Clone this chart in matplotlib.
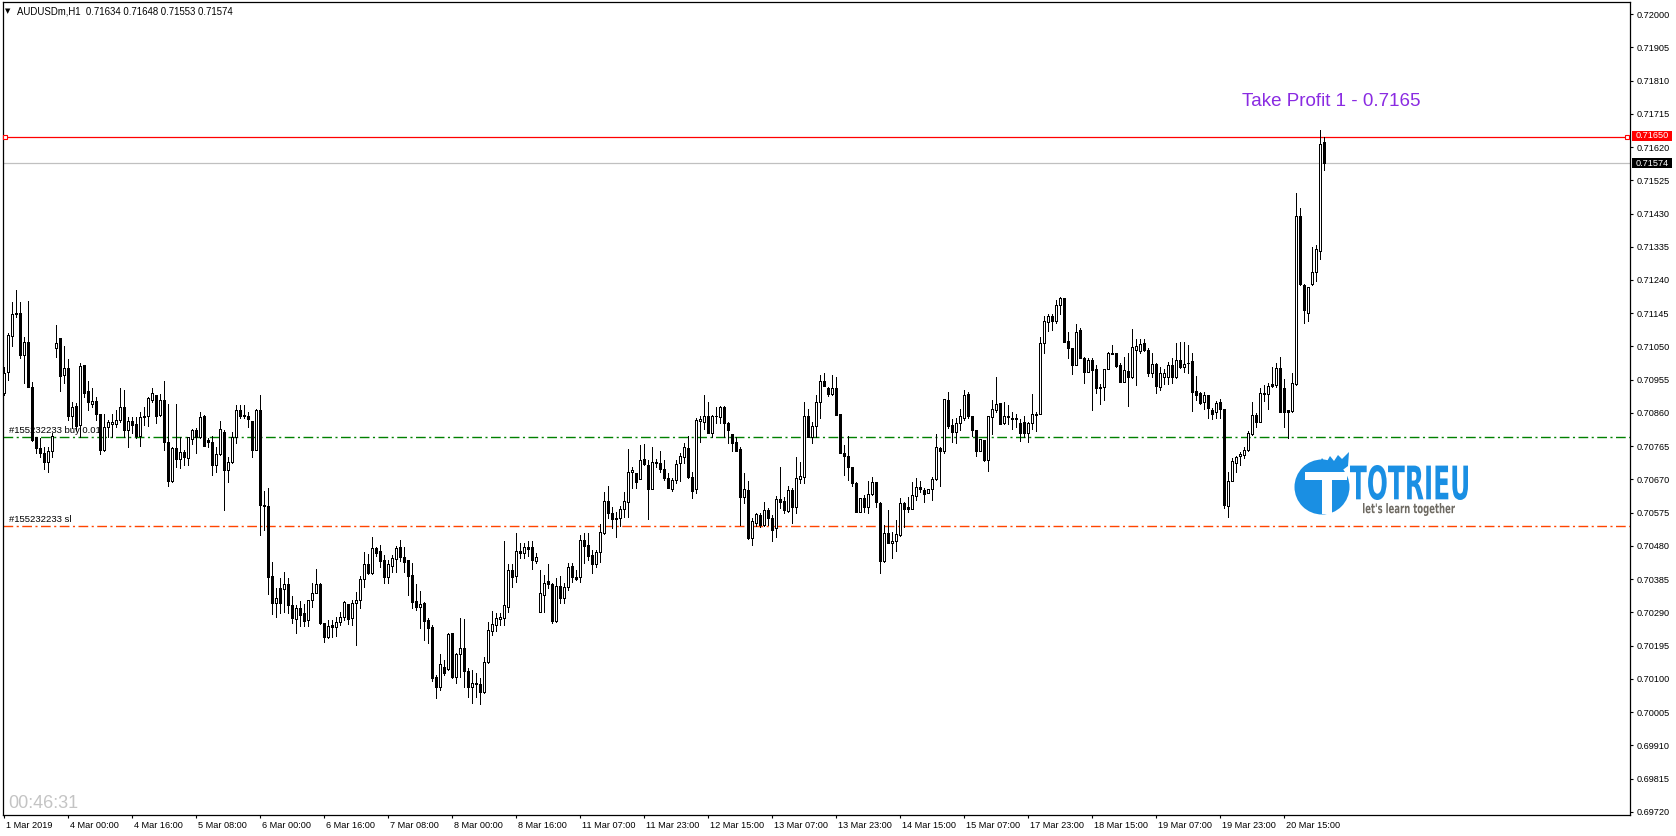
import matplotlib
matplotlib.use("Agg")
import matplotlib.pyplot as plt
import numpy as np
from matplotlib.patches import Rectangle, Ellipse, Polygon, PathPatch
from matplotlib.textpath import TextPath
from matplotlib.font_manager import FontProperties
from matplotlib.transforms import Affine2D, ScaledTranslation

W, H = 1676, 836

# AUDUSDm H1, prices in points above 0.70000 (1 point = 0.00001)
opens = [
    916, 976, 1080, 1142, 1145, 1026, 1063, 933, 792, 759,
    747, 719, 750, 1047, 1073, 969, 988, 850, 880, 826,
    997, 923, 887, 894, 857, 754, 821, 828, 829, 840,
    878, 810, 837, 828, 794, 848, 850, 897, 911, 854,
    897, 778, 667, 759, 728, 748, 730, 785, 811, 792,
    852, 783, 778, 711, 743, 807, 697, 721, 790, 869,
    855, 852, 837, 754, 869, 597, 594, 394, 316, 359,
    356, 371, 311, 271, 302, 288, 269, 326, 347, 371,
    259, 221, 254, 248, 264, 278, 313, 273, 316, 326,
    386, 429, 402, 473, 466, 440, 392, 424, 443, 476,
    448, 440, 397, 323, 305, 316, 268, 248, 105, 78,
    133, 128, 231, 107, 170, 188, 123, 76, 87, 86,
    64, 148, 238, 254, 272, 273, 307, 411, 394, 467,
    459, 476, 476, 438, 290, 340, 380, 370, 267, 367,
    330, 364, 424, 390, 392, 497, 483, 454, 429, 464,
    516, 609, 573, 556, 561, 587, 605, 690, 688, 670,
    728, 711, 642, 716, 716, 699, 673, 642, 669, 716,
    733, 759, 676, 642, 838, 835, 851, 804, 850, 848,
    878, 830, 800, 778, 757, 619, 640, 504, 547, 568,
    540, 583, 561, 530, 614, 609, 581, 640, 592, 672,
    678, 851, 790, 822, 890, 951, 932, 913, 930, 856,
    747, 737, 705, 661, 576, 616, 590, 628, 663, 602,
    438, 516, 488, 494, 511, 602, 590, 587, 623, 648,
    640, 631, 644, 670, 760, 750, 897, 826, 805, 830,
    845, 914, 850, 811, 752, 783, 726, 848, 869, 889,
    830, 851, 847, 842, 830, 833, 804, 830, 854, 857,
    1059, 1121, 1137, 1124, 1169, 1188, 1066, 1047, 997, 1097,
    1016, 978, 1011, 985, 930, 933, 985, 1032, 1030, 997,
    949, 980, 964, 1040, 1038, 1059, 1040, 973, 1000, 935,
    964, 964, 997, 964, 1011, 990, 1004, 1009, 923, 918,
    892, 911, 868, 862, 890, 871, 595, 666, 718, 737,
    740, 754, 800, 854, 835, 913, 914, 942, 940, 988,
    930, 868, 866, 943, 1423, 1226, 1145, 1228, 1262, 1324, 1634,
]
highs = [
    992, 1089, 1176, 1211, 1178, 1078, 1180, 948, 792, 789,
    764, 764, 802, 1111, 1073, 1051, 1013, 890, 888, 1002,
    997, 951, 930, 907, 857, 856, 840, 857, 869, 932,
    926, 849, 849, 849, 864, 878, 907, 930, 911, 914,
    951, 886, 764, 886, 792, 754, 790, 813, 816, 864,
    854, 788, 794, 764, 838, 811, 735, 807, 883, 883,
    883, 864, 837, 870, 911, 638, 647, 433, 359, 388,
    405, 388, 337, 311, 324, 314, 326, 375, 414, 373,
    259, 268, 268, 278, 290, 324, 313, 326, 348, 394,
    462, 456, 505, 478, 483, 454, 440, 454, 480, 497,
    478, 440, 430, 371, 352, 319, 273, 254, 112, 171,
    154, 232, 231, 173, 273, 271, 130, 126, 116, 102,
    162, 264, 294, 288, 288, 494, 429, 429, 516, 489,
    489, 495, 495, 459, 411, 397, 429, 373, 388, 395,
    373, 432, 432, 411, 511, 516, 516, 468, 468, 542,
    634, 651, 592, 578, 595, 633, 757, 705, 688, 769,
    770, 726, 762, 729, 751, 726, 688, 673, 727, 745,
    773, 794, 690, 845, 850, 911, 891, 854, 878, 880,
    880, 835, 800, 792, 764, 688, 667, 559, 573, 573,
    607, 588, 569, 623, 705, 621, 651, 645, 735, 721,
    892, 870, 835, 911, 969, 973, 935, 969, 964, 856,
    769, 794, 707, 664, 616, 626, 666, 678, 663, 607,
    540, 583, 521, 554, 616, 607, 621, 664, 673, 666,
    645, 644, 678, 800, 762, 900, 919, 842, 845, 870,
    926, 921, 850, 811, 785, 783, 850, 897, 964, 889,
    892, 883, 864, 857, 842, 851, 835, 914, 864, 1078,
    1137, 1143, 1143, 1183, 1190, 1188, 1092, 1047, 1113, 1102,
    1021, 1016, 1016, 997, 943, 987, 1035, 1054, 1030, 1002,
    1021, 1032, 1099, 1070, 1070, 1070, 1045, 1030, 1004, 992,
    987, 1007, 1016, 1061, 1064, 1064, 1054, 1032, 966, 921,
    921, 911, 873, 895, 899, 871, 692, 730, 737, 749,
    762, 809, 892, 859, 930, 940, 945, 990, 1002, 1019,
    956, 868, 973, 1488, 1445, 1229, 1221, 1333, 1340, 1669, 1648,
]
lows = [
    912, 954, 1051, 1133, 1016, 945, 933, 781, 747, 735,
    699, 692, 735, 1021, 924, 945, 840, 816, 811, 792,
    907, 869, 878, 840, 743, 751, 792, 792, 821, 835,
    792, 764, 802, 788, 766, 826, 823, 892, 830, 850,
    754, 652, 664, 707, 702, 711, 711, 771, 745, 788,
    766, 764, 683, 692, 740, 583, 664, 716, 775, 845,
    845, 821, 735, 754, 511, 526, 342, 285, 278, 288,
    290, 288, 259, 232, 252, 250, 252, 307, 345, 256,
    207, 216, 221, 223, 254, 269, 257, 254, 197, 302,
    364, 400, 400, 450, 421, 375, 373, 407, 407, 438,
    407, 340, 304, 297, 247, 211, 202, 95, 45, 69,
    111, 126, 102, 88, 107, 78, 48, 30, 48, 28,
    59, 145, 226, 238, 254, 254, 290, 364, 378, 445,
    445, 451, 414, 432, 290, 292, 361, 259, 264, 316,
    316, 354, 378, 383, 378, 432, 440, 402, 421, 433,
    514, 559, 530, 505, 538, 564, 564, 647, 645, 670,
    711, 556, 642, 707, 692, 669, 645, 638, 661, 667,
    718, 673, 618, 630, 778, 814, 802, 792, 832, 832,
    792, 775, 752, 752, 540, 604, 499, 483, 537, 535,
    537, 540, 495, 507, 588, 573, 576, 547, 575, 659,
    659, 790, 775, 792, 845, 937, 909, 911, 854, 745,
    683, 669, 650, 576, 576, 576, 573, 626, 590, 404,
    435, 488, 445, 467, 509, 535, 578, 585, 611, 635,
    607, 631, 611, 669, 652, 747, 818, 778, 775, 811,
    840, 845, 795, 738, 750, 724, 695, 800, 864, 829,
    829, 829, 813, 821, 781, 792, 778, 813, 809, 857,
    1032, 1095, 1097, 1116, 1143, 1064, 1016, 971, 997, 1016,
    947, 978, 868, 916, 887, 897, 985, 1028, 992, 949,
    949, 880, 959, 940, 1030, 1038, 966, 964, 916, 927,
    943, 943, 947, 959, 988, 978, 973, 867, 897, 886,
    870, 845, 842, 847, 847, 588, 562, 666, 692, 711,
    730, 752, 797, 821, 835, 894, 870, 935, 935, 864,
    821, 788, 864, 940, 1226, 1118, 1124, 1227, 1238, 1300, 1553,
]
closes = [
    975, 1083, 1142, 1146, 1026, 1063, 933, 783, 759, 747,
    719, 752, 794, 1061, 966, 988, 850, 878, 823, 994,
    918, 890, 894, 857, 754, 821, 835, 833, 840, 878,
    810, 837, 826, 794, 849, 852, 904, 916, 851, 897,
    778, 667, 759, 728, 748, 734, 790, 811, 792, 849,
    766, 778, 711, 743, 813, 697, 721, 792, 869, 850,
    850, 843, 754, 869, 596, 594, 392, 316, 330, 316,
    371, 311, 273, 302, 283, 267, 326, 347, 371, 259,
    221, 251, 248, 264, 278, 319, 270, 316, 326, 386,
    429, 404, 473, 461, 438, 392, 429, 445, 473, 448,
    435, 394, 321, 307, 313, 267, 247, 104, 78, 142,
    118, 229, 107, 171, 188, 124, 76, 88, 88, 64,
    148, 240, 256, 273, 276, 310, 411, 392, 467, 459,
    476, 472, 440, 448, 345, 373, 370, 267, 367, 330,
    362, 419, 390, 385, 497, 481, 452, 429, 462, 519,
    609, 573, 556, 561, 587, 609, 690, 697, 662, 726,
    714, 642, 719, 721, 699, 673, 645, 669, 714, 737,
    762, 678, 638, 840, 843, 851, 804, 852, 852, 878,
    832, 810, 775, 752, 621, 642, 502, 551, 570, 540,
    583, 559, 526, 614, 607, 583, 640, 592, 673, 680,
    851, 790, 824, 890, 951, 937, 913, 932, 854, 745,
    738, 705, 659, 578, 616, 590, 628, 663, 605, 438,
    516, 488, 494, 513, 602, 585, 585, 626, 648, 644,
    628, 642, 672, 762, 750, 900, 824, 807, 830, 850,
    911, 850, 810, 750, 785, 726, 850, 871, 886, 829,
    851, 848, 842, 847, 802, 802, 830, 857, 857, 1059,
    1124, 1137, 1123, 1169, 1188, 1064, 1045, 997, 1092, 1016,
    978, 1011, 983, 930, 933, 985, 1030, 1028, 994, 949,
    983, 964, 1048, 1051, 1056, 1040, 975, 1000, 937, 973,
    973, 997, 964, 1011, 990, 1000, 1002, 921, 911, 889,
    911, 875, 857, 889, 871, 597, 667, 723, 735, 743,
    754, 802, 854, 835, 916, 916, 938, 938, 988, 864,
    864, 864, 945, 1424, 1229, 1154, 1219, 1262, 1328, 1630, 1574,
]

tick_labels = ["1 Mar 2019", "4 Mar 00:00", "4 Mar 16:00", "5 Mar 08:00", "6 Mar 00:00",
               "6 Mar 16:00", "7 Mar 08:00", "8 Mar 00:00", "8 Mar 16:00", "11 Mar 07:00",
               "11 Mar 23:00", "12 Mar 15:00", "13 Mar 07:00", "13 Mar 23:00", "14 Mar 15:00",
               "15 Mar 07:00", "17 Mar 23:00", "18 Mar 15:00", "19 Mar 07:00", "19 Mar 23:00",
               "20 Mar 15:00"]

tp_price = 0.71650
bid_price = 0.71574
buy_price = 0.70791
sl_price = 0.70538

o = 0.7 + np.array(opens) / 1e5
h = 0.7 + np.array(highs) / 1e5
l = 0.7 + np.array(lows) / 1e5
c = 0.7 + np.array(closes) / 1e5
x = np.arange(len(o))

FONT = ["Liberation Sans", "DejaVu Sans"]
plt.rcParams["font.family"] = FONT


def fx(px):
    return px / W


def fy(py):
    return 1 - py / H


fig = plt.figure(figsize=(W / 100, H / 100), dpi=100)
ax = fig.add_axes([fx(2.5), fy(815), fx(1630) - fx(2.5), fy(2) - fy(815)])
ax.set_xlim(-0.25, 406.6)
ax.set_ylim(0.697114, 0.720343)

# candles: 1px wicks, 3px bodies (1px outline)
ax.vlines(x, l, h, color="black", linewidth=0.6, zorder=3, antialiased=False)
up = c >= o
ax.bar(x, np.abs(c - o), bottom=np.minimum(o, c), width=0.5,
       color=np.where(up, "white", "black"), edgecolor="black",
       linewidth=0.6, zorder=4, antialiased=False)

# order lines
ax.axhline(tp_price, color="#ff0000", linewidth=0.9, zorder=2)
ax.plot([0.375, 405.9], [tp_price, tp_price], linestyle="none", marker="s",
        markersize=3.5, markerfacecolor="white", markeredgecolor="#ff0000",
        markeredgewidth=0.8, zorder=5, clip_on=False)
ax.axhline(bid_price, color="#c0c0c0", linewidth=0.9, zorder=1)
ax.axhline(buy_price, color="#008000", linewidth=1.0, dashes=(7, 2.5, 1.5, 2.5), zorder=2)
ax.axhline(sl_price, color="#ff4500", linewidth=1.0, dashes=(7, 2.5, 1.5, 2.5), zorder=2)

ax.text(1.4, buy_price + 0.00006, "#155232233 buy 0.01", fontsize=6.8, va="bottom",
        ha="left", zorder=1)
ax.text(1.4, sl_price + 0.00006, "#155232233 sl", fontsize=6.8, va="bottom",
        ha="left", zorder=1)

# axes styling
for s in ax.spines.values():
    s.set_linewidth(0.9)
    s.set_color("black")
ax.yaxis.tick_right()
yt = [0.72 - 0.00095 * k for k in range(25)]
ax.set_yticks(yt)
ax.set_yticklabels(["%.5f" % v for v in yt])
ax.set_xticks(np.arange(len(tick_labels)) * 16)
ax.set_xticklabels(tick_labels)
ax.tick_params(axis="both", direction="out", length=2.5, width=0.8, labelsize=6.6,
               colors="black")
ax.tick_params(axis="y", pad=2)
ax.tick_params(axis="x", pad=1.5)
off = ScaledTranslation(2 / 100, 0, fig.dpi_scale_trans)
for lab in ax.get_xticklabels():
    lab.set_horizontalalignment("left")
    lab.set_transform(lab.get_transform() + off)

# price tags on the right
fig.patches.append(Rectangle((fx(1632), fy(141)), fx(40), 10 / H, transform=fig.transFigure,
                             facecolor="#ff0000", edgecolor="none"))
fig.text(fx(1636), fy(136), "0.71650", color="white", fontsize=6.6, va="center", ha="left")
fig.patches.append(Rectangle((fx(1632), fy(168)), fx(40), 10 / H, transform=fig.transFigure,
                             facecolor="black", edgecolor="none"))
fig.text(fx(1636), fy(163), "0.71574", color="white", fontsize=6.6, va="center", ha="left")

# header, clock, take profit note
fig.text(fx(5), fy(11), "\u25bc", fontsize=5, va="center", ha="left", family="DejaVu Sans")
fig.text(fx(17), fy(11), "AUDUSDm,H1  0.71634 0.71648 0.71553 0.71574", fontsize=6.9,
         va="center", ha="left")
fig.text(fx(8), fy(803), "00:46:31", fontsize=13, color="#c4c4c4", va="center", ha="left")
fig.text(fx(1331), fy(102), "Take Profit 1 - 0.7165", fontsize=13.5, color="#8a2be2",
         va="center", ha="center")

# logo
blue = "#1a8fe3"
fig.patches.append(Ellipse((fx(1322), fy(487)), 55 / W, 55 / H, transform=fig.transFigure,
                           facecolor=blue, edgecolor="none"))
flame = [(1308, 470), (1314, 462), (1318, 466), (1322, 458), (1326, 463), (1330, 456),
         (1334, 461), (1338, 455), (1342, 459), (1349, 452), (1348, 466), (1340, 472)]
fig.patches.append(Polygon([(fx(a), fy(b)) for a, b in flame], closed=True,
                           transform=fig.transFigure, facecolor=blue, edgecolor="none"))
fig.patches.append(Rectangle((fx(1305), fy(480)), 42 / W, 8 / H, transform=fig.transFigure,
                             facecolor="white", edgecolor="none"))
fig.patches.append(Rectangle((fx(1322), fy(514)), 10 / W, 34 / H, transform=fig.transFigure,
                             facecolor="white", edgecolor="none"))


def fit_text(s, x0, x1, y0, y1, color, weight):
    tp = TextPath((0, 0), s, size=20, prop=FontProperties(family="DejaVu Sans", weight=weight))
    ext = tp.get_extents()
    tr = (Affine2D().translate(-ext.x0, -ext.y0)
          .scale((x1 - x0) / ext.width, (y1 - y0) / ext.height)
          .translate(x0, H - y1).scale(1 / W, 1 / H) + fig.transFigure)
    fig.patches.append(PathPatch(tp, transform=tr, facecolor=color, edgecolor="none"))


fit_text("TOTRIEU", 1350, 1468, 465, 500, blue, "bold")
fit_text("let's learn together", 1363, 1455, 503, 516, "#6e6a62", "bold")

fig.savefig("out.png", dpi=100)
